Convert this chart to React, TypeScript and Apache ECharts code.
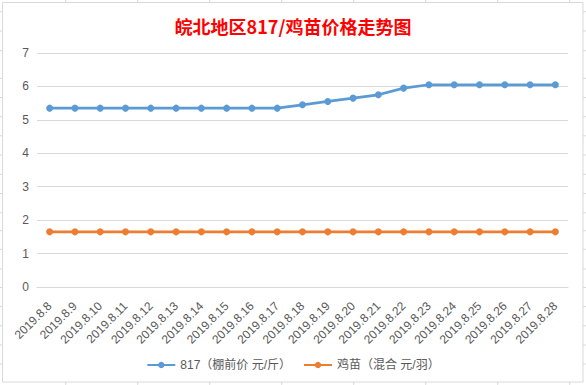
import React, { useEffect, useRef } from "react";
import * as echarts from "echarts";

const categories = [
  "2019.8.8", "2019.8.9", "2019.8.10", "2019.8.11", "2019.8.12", "2019.8.13", "2019.8.14",
  "2019.8.15", "2019.8.16", "2019.8.17", "2019.8.18", "2019.8.19", "2019.8.20", "2019.8.21",
  "2019.8.22", "2019.8.23", "2019.8.24", "2019.8.25", "2019.8.26", "2019.8.27", "2019.8.28",
];
const price817 = [
  5.35, 5.35, 5.35, 5.35, 5.35, 5.35, 5.35, 5.35, 5.35, 5.35, 5.45, 5.55, 5.65, 5.75,
  5.95, 6.05, 6.05, 6.05, 6.05, 6.05, 6.05,
];
const priceChick = [
  1.65, 1.65, 1.65, 1.65, 1.65, 1.65, 1.65, 1.65, 1.65, 1.65, 1.65, 1.65, 1.65, 1.65,
  1.65, 1.65, 1.65, 1.65, 1.65, 1.65, 1.65,
];
const seriesNames = ["817（棚前价 元/斤）", "鸡苗（混合 元/羽）"];
const titleText = "皖北地区817/鸡苗价格走势图";

const colXs = [65.7, 137.7, 209.7, 281.7, 353.7, 425.7, 497.7, 569.7];
const rowYs = [11.7, 31, 50.7, 78.3, 97.5, 116.7, 135.8, 155, 174.3, 193.5, 212.8, 230.7, 249.3, 269, 287.5, 306.6, 325.8, 345, 364];

const FONT = "'Liberation Sans', 'Noto Sans CJK SC', sans-serif";

export default function App() {
  const ref = useRef<HTMLDivElement>(null);
  useEffect(() => {
    document.body.style.margin = "0";
    const chart = echarts.init(ref.current!, null, { renderer: "svg" });
    const cellLines: any[] = [];
    colXs.forEach((x) => {
      cellLines.push({ type: "line", shape: { x1: x, y1: 0, x2: x, y2: 3 }, style: { stroke: "#D9D9D9", lineWidth: 1 }, silent: true });
      cellLines.push({ type: "line", shape: { x1: x, y1: 382, x2: x, y2: 385 }, style: { stroke: "#D9D9D9", lineWidth: 1 }, silent: true });
    });
    rowYs.forEach((y) => {
      cellLines.push({ type: "line", shape: { x1: 0, y1: y, x2: 3, y2: y }, style: { stroke: "#D9D9D9", lineWidth: 1 }, silent: true });
      cellLines.push({ type: "line", shape: { x1: 583, y1: y, x2: 586, y2: y }, style: { stroke: "#D9D9D9", lineWidth: 1 }, silent: true });
    });
    chart.setOption({
      animation: false,
      backgroundColor: "#ffffff",
      title: {
        text: titleText,
        left: "center",
        top: 12,
        textStyle: { color: "#FF0000", fontSize: 18, fontWeight: "bold", fontFamily: "'Noto Sans CJK SC', sans-serif" },
      },
      graphic: [
        {
          type: "rect",
          shape: { x: 2.5, y: 2.5, width: 580.5, height: 379.5 },
          style: { fill: "none", stroke: "#D9D9D9", lineWidth: 1 },
          silent: true,
          z: -1,
        },
        ...cellLines,
      ],
      legend: {
        bottom: 9,
        left: "center",
        itemWidth: 28,
        itemHeight: 8,
        itemGap: 12,
        textStyle: { color: "#595959", fontSize: 12, fontFamily: FONT },
        data: seriesNames,
      },
      grid: { left: 37, right: 18, top: 53, bottom: 98, containLabel: false },
      xAxis: {
        type: "category",
        data: categories,
        boundaryGap: true,
        axisLine: { show: true, lineStyle: { color: "#D9D9D9", width: 1 } },
        axisTick: { show: false },
        axisLabel: { interval: 0, rotate: 45, color: "#595959", fontSize: 12, margin: 17, fontFamily: FONT },
      },
      yAxis: {
        type: "value",
        min: 0,
        max: 7,
        interval: 1,
        axisLine: { show: false },
        axisTick: { show: false },
        axisLabel: { color: "#595959", fontSize: 12, margin: 8, fontFamily: FONT },
        splitLine: { lineStyle: { color: "#D9D9D9", width: 1 } },
      },
      series: [
        {
          name: seriesNames[0],
          type: "line",
          data: price817,
          symbol: "circle",
          symbolSize: 7,
          lineStyle: { color: "#5B9BD5", width: 2.75 },
          itemStyle: { color: "#5B9BD5" },
        },
        {
          name: seriesNames[1],
          type: "line",
          data: priceChick,
          symbol: "circle",
          symbolSize: 7,
          lineStyle: { color: "#ED7D31", width: 2.75 },
          itemStyle: { color: "#ED7D31" },
        },
      ],
    });
    return () => chart.dispose();
  }, []);
  return <div ref={ref} style={{ width: 586, height: 385 }} />;
}
